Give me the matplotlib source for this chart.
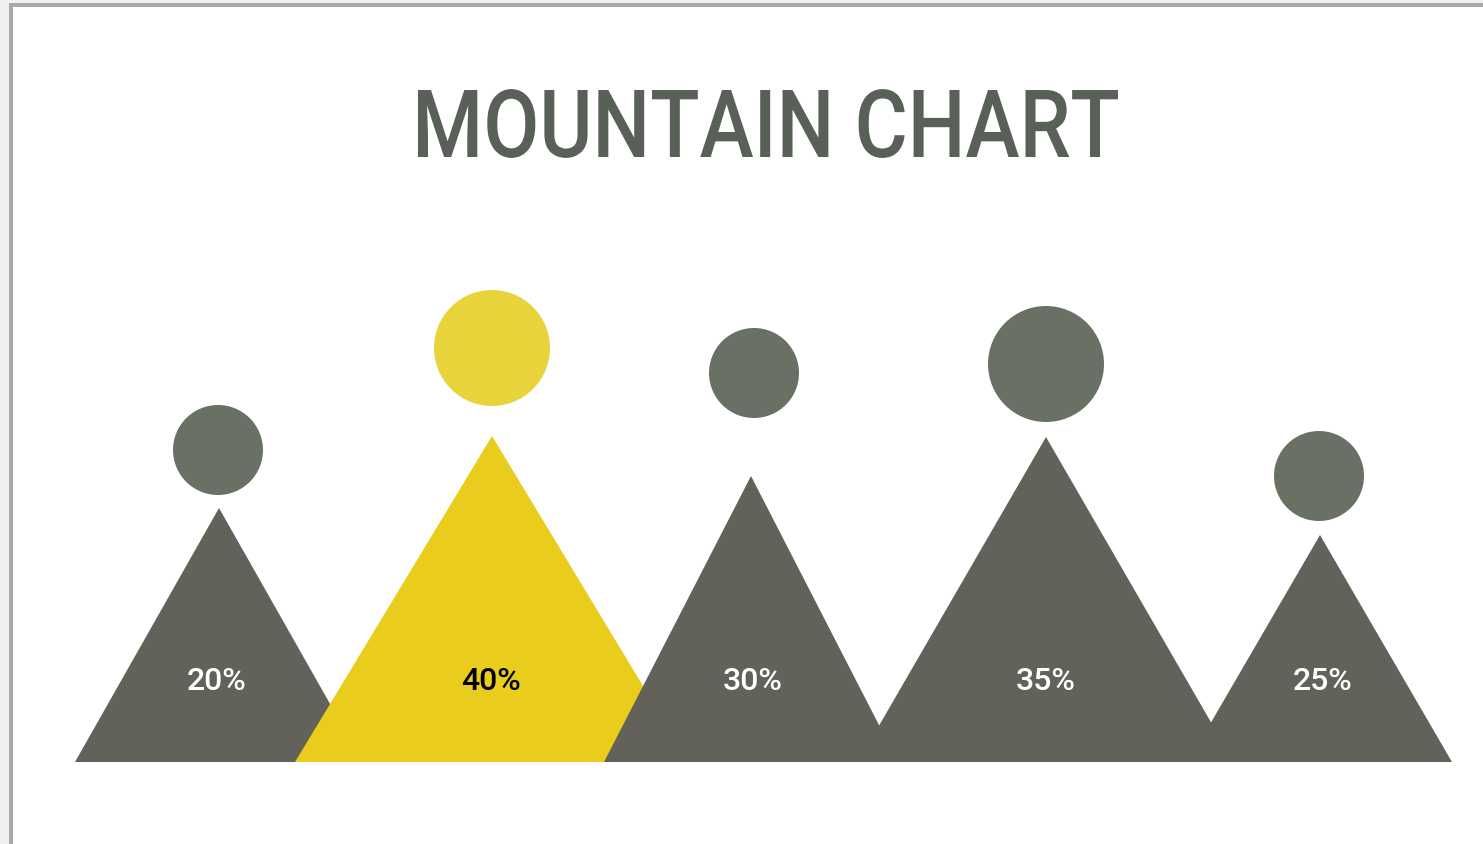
import matplotlib
matplotlib.use("Agg")
import matplotlib.pyplot as plt
from matplotlib.patches import Polygon, Circle, Rectangle, PathPatch
from matplotlib.textpath import TextPath
from matplotlib.font_manager import FontProperties
from matplotlib.transforms import Affine2D

# ---- data ----
title = "MOUNTAIN CHART"
labels = ["20%", "40%", "30%", "35%", "25%"]
values = [20, 40, 30, 35, 25]
highlight = [False, True, False, False, False]

# ---- layout (pixel units of the 1483x844 canvas) ----
peak_x = [219, 492, 751, 1046, 1320]
peak_y = [508, 436, 476, 437, 535]
half_base = [144, 197, 147, 188, 132]
base_y = 762
circle_x = [218, 492, 754, 1046, 1319]
circle_y = [450, 348, 373, 364, 476]
circle_r = [45, 58, 45, 58, 45]
label_x = [217, 491, 753, 1046, 1323]
label_y = 681

GREY_TRI = "#62625a"
YELLOW_TRI = "#eacd1c"
GREY_CIR = "#697064"
YELLOW_CIR = "#e8d43a"
TITLE_C = "#586058"

W, H = 1483, 844
fig = plt.figure(figsize=(W / 100, H / 100), dpi=100, facecolor="#f0f0f0")
ax = fig.add_axes([0, 0, 1, 1])
ax.set_xlim(0, W)
ax.set_ylim(H, 0)
ax.axis("off")

# frame
ax.add_patch(Rectangle((9, 3), W, H, facecolor="#a9a9a9", edgecolor="none", zorder=0))
ax.add_patch(Rectangle((13, 7), W, H, facecolor="white", edgecolor="none", zorder=0))

# condensed title drawn as a text path, squeezed horizontally
fp = FontProperties(family="Roboto", weight="medium")
tp = TextPath((0, 0), title, size=100, prop=fp)
cap = TextPath((0, 0), "H", size=100, prop=fp).get_extents()
ext = tp.get_extents()
title_left, title_right, title_base, title_top = 418, 1118, 157, 90
sx = (title_right - title_left) / ext.width
sy = (title_base - title_top) / cap.height
tr = Affine2D().translate(-ext.x0, 0).scale(sx, -sy).translate(title_left, title_base)
ax.add_patch(PathPatch(tr.transform_path(tp), facecolor=TITLE_C, edgecolor="none", zorder=5))

for i in range(len(values)):
    tc = YELLOW_TRI if highlight[i] else GREY_TRI
    cc = YELLOW_CIR if highlight[i] else GREY_CIR
    tri = Polygon([(peak_x[i] - half_base[i], base_y), (peak_x[i], peak_y[i]),
                   (peak_x[i] + half_base[i], base_y)], closed=True,
                  facecolor=tc, edgecolor="none", zorder=1 + i)
    ax.add_patch(tri)
    ax.add_patch(Circle((circle_x[i], circle_y[i]), circle_r[i],
                        facecolor=cc, edgecolor="none", zorder=1))
for i in range(len(values)):
    ax.text(label_x[i], label_y, labels[i], ha="center", va="center",
            fontsize=23, family="Roboto", weight="medium",
            color="black" if highlight[i] else "white", zorder=10)

fig.savefig("out.png", dpi=100, facecolor=fig.get_facecolor())
